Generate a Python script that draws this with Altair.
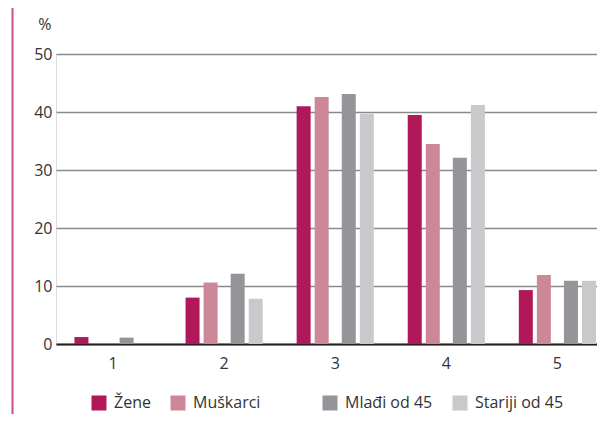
import altair as alt
import pandas as pd

categories = ["1", "2", "3", "4", "5"]
series = ["Žene", "Muškarci", "Mlađi od 45", "Stariji od 45"]
zene = [1.2, 8.0, 41.0, 39.5, 9.3]
muskarci = [0, 10.6, 42.6, 34.5, 11.9]
mladi = [1.1, 12.1, 43.1, 32.1, 10.9]
stariji = [0, 7.8, 39.7, 41.2, 10.9]
colors = ["#b0185a", "#cd8898", "#939598", "#c8c9cb"]
y_ticks = [0, 10, 20, 30, 40, 50]

rows = []
for s, vals in zip(series, [zene, muskarci, mladi, stariji]):
    for c, v in zip(categories, vals):
        rows.append({"kat": c, "grupa": s, "vrijednost": v})
df = pd.DataFrame(rows)

# spacer slots to reproduce grouping gaps
offset_domain = ["Žene", "_a", "Muškarci", "_b", "_c", "Mlađi od 45", "_d", "Stariji od 45"]
legend_domain = ["Žene", "Muškarci", " ", "Mlađi od 45", "Stariji od 45"]
legend_range = [colors[0], colors[1], "transparent", colors[2], colors[3]]

W, H = 541, 290

bars = alt.Chart(df).mark_bar(width=14).encode(
    x=alt.X("kat:N", sort=categories,
            scale=alt.Scale(paddingInner=0.35, paddingOuter=0.11, align=0.857),
            axis=alt.Axis(title=None, labelAngle=0, ticks=False, labelPadding=11,
                          domainColor="#231f20", domainWidth=2, grid=False)),
    xOffset=alt.XOffset("grupa:N", scale=alt.Scale(domain=offset_domain, paddingInner=0, paddingOuter=0)),
    y=alt.Y("vrijednost:Q",
            scale=alt.Scale(domain=[0, 50], nice=False),
            axis=alt.Axis(title="%", titleAngle=0, titleAlign="right", titleBaseline="middle",
                          titleX=-5, titleY=-30, titleFontWeight="normal", titleFontSize=16,
                          titleColor="#333333",
                          values=y_ticks, ticks=False, domain=False, labelPadding=4,
                          gridColor="#8a8a8a", gridWidth=1.5)),
    color=alt.Color("grupa:N", scale=alt.Scale(domain=legend_domain, range=legend_range),
                    legend=alt.Legend(title=None, orient="none", legendX=35, legendY=341,
                                      direction="horizontal", symbolType="square",
                                      symbolSize=225, symbolStrokeWidth=0,
                                      labelFontSize=16, labelColor="#333333",
                                      labelOffset=7, columnPadding=19)),
)

pink = alt.Chart(alt.Data(values=[{}])).mark_rule(color="#c8508a", strokeWidth=2).encode(
    x=alt.value(-43.5), y=alt.value(-46), y2=alt.value(362)
)

chart = alt.layer(bars, pink).properties(
    width=W, height=H,
    autosize=alt.AutoSizeParams(type="none"),
    padding={"left": 48, "top": 46, "right": 0, "bottom": 70},
    background="white",
).configure_view(stroke=None).configure(font="Open Sans").configure_axis(
    labelFontSize=16, labelColor="#333333", labelFont="Open Sans"
)

chart.save("out.html", embed_options={"renderer": "svg", "actions": False})
